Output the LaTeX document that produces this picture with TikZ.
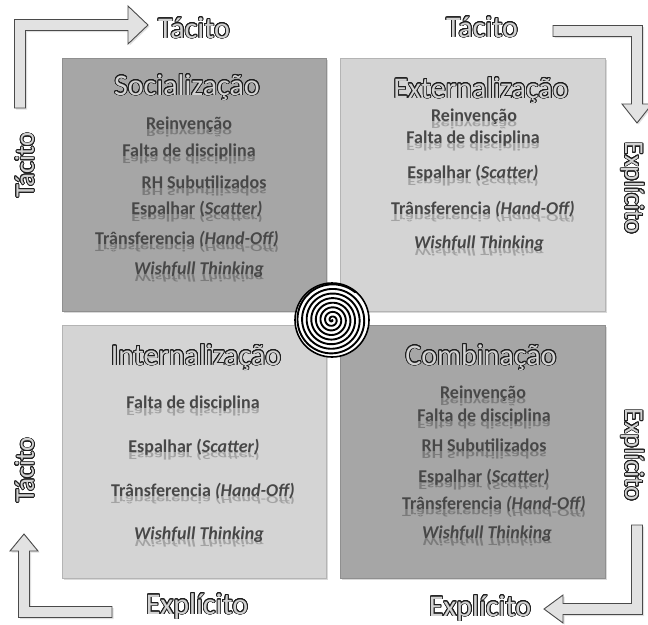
\documentclass[tikz,border=0pt]{standalone}
\usepackage{fontspec}
\setmainfont{Carlito}
\usepackage{graphicx}
\usepackage[copies]{contour}
\usetikzlibrary{shadows}

\contourlength{0.8pt}
\contournumber{24}

\definecolor{darkbox}{HTML}{A6A6A6}
\definecolor{lightbox}{HTML}{D4D4D4}
\definecolor{darkedge}{HTML}{8F8F8F}
\definecolor{lightedge}{HTML}{B4B4B4}
\definecolor{itemgray}{HTML}{474747}
\definecolor{outl}{HTML}{1E1E1E}
\definecolor{outfill}{HTML}{D2D2D2}
\definecolor{arrowfill}{HTML}{E2E2E2}
\definecolor{arrowline}{HTML}{4A4A4A}
\colorlet{refl}{itemgray!45!darkbox}

% hollow (outlined) lettering
\newcommand\outlined[1]{\contour{outl}{\textcolor{outfill}{#1}}}
% text with a faint mirror image under its baseline
\newcommand\mirrored[1]{\leavevmode\rlap{\scalebox{1}[-0.6]{\textcolor{refl}{#1}}}#1}

\tikzset{
  quadbox/.style={line width=0.8pt, drop shadow={shadow xshift=2pt, shadow yshift=-2pt, opacity=0.3}},
  darkquad/.style={quadbox, fill=darkbox, draw=darkedge},
  lightquad/.style={quadbox, fill=lightbox, draw=lightedge},
  item/.style={anchor=base, inner sep=0pt, text=itemgray, font=\fontsize{18}{20}\selectfont\bfseries},
  heading/.style={anchor=base, inner sep=0pt, font=\fontsize{30}{32}\selectfont},
  sidelabel/.style={inner sep=0pt, font=\fontsize{27}{29}\selectfont},
  bentarrow/.style={fill=arrowfill, draw=arrowline, line width=0.9pt, line join=miter,
    drop shadow={shadow xshift=1.5pt, shadow yshift=-1.5pt, opacity=0.25}},
}

\begin{document}
\begin{tikzpicture}[x=1pt, y=-1pt]
\useasboundingbox (0,0) rectangle (648,624);

% ---- four quadrants ----
\path[darkquad]  (62,58)  rectangle (326,311);
\path[lightquad] (340,58) rectangle (605,311);
\path[lightquad] (62,325) rectangle (326,578);
\path[darkquad]  (340,325) rectangle (605,578);

% ---- Socialização ----
\colorlet{refl}{itemgray!45!darkbox}
\node[heading] (soc) at (187,95) {\outlined{Socialização}};
\node[item] (soc1) at (189,129) {\mirrored{Reinvenção}};
\node[item] (soc2) at (189,156) {\mirrored{Falta de disciplina}};
\node[item] (soc3) at (204,188) {\mirrored{RH Subutilizados}};
\node[item] (soc4) at (197,214) {\mirrored{Espalhar (\textit{Scatter)}}};
\node[item] (soc5) at (187,244) {\mirrored{Trânsferencia \textit{(Hand-Off)}}};
\node[item] (soc6) at (199,274) {\mirrored{\textit{Wishfull Thinking}}};

% ---- Externalização ----
\colorlet{refl}{itemgray!35!lightbox}
\node[heading] (ext) at (481,98) {\outlined{Externalização}};
\node[item] (ext1) at (474,121) {\mirrored{Reinvenção}};
\node[item] (ext2) at (473,143) {\mirrored{Falta de disciplina}};
\node[item] (ext3) at (473,178) {\mirrored{Espalhar (\textit{Scatter)}}};
\node[item] (ext4) at (483,214) {\mirrored{Trânsferencia \textit{(Hand-Off)}}};
\node[item] (ext5) at (479,248) {\mirrored{\textit{Wishfull Thinking}}};

% ---- Internalização ----
\node[heading] (int) at (196,365) {\outlined{Internalização}};
\node[item] (int1) at (193,408) {\mirrored{Falta de disciplina}};
\node[item] (int2) at (194,452) {\mirrored{Espalhar (\textit{Scatter)}}};
\node[item] (int3) at (203,496) {\mirrored{Trânsferencia \textit{(Hand-Off)}}};
\node[item] (int4) at (199,539) {\mirrored{\textit{Wishfull Thinking}}};

% ---- Combinação ----
\colorlet{refl}{itemgray!45!darkbox}
\node[heading] (com) at (481,365) {\outlined{Combinação}};
\node[item] (com1) at (483,398) {\mirrored{Reinvenção}};
\node[item] (com2) at (484,421) {\mirrored{Falta de disciplina}};
\node[item] (com3) at (484,451) {\mirrored{RH Subutilizados}};
\node[item] (com4) at (484,482) {\mirrored{Espalhar (\textit{Scatter)}}};
\node[item] (com5) at (494,509) {\mirrored{Trânsferencia \textit{(Hand-Off)}}};
\node[item] (com6) at (487,538) {\mirrored{\textit{Wishfull Thinking}}};

% ---- central spiral ----
\node[circle, fill=white, draw=black, line width=1.6pt, minimum size=74pt, inner sep=0pt] (hub) at (332,320) {};
\draw[line width=1.9pt, line cap=round]
  plot[domain=0:2830, samples=800, smooth] ({332+4.6*\x/360*cos(\x)}, {320+4.6*\x/360*sin(\x)});

% ---- bent arrows in the corners ----
\draw[bentarrow] (14.5,108) -- (14.5,19.5) -- (128,19.5) -- (128,6) -- (148,25)
  -- (128,44) -- (128,30.5) -- (25.5,30.5) -- (25.5,108) -- cycle;
\draw[bentarrow] (553,25.5) -- (642.5,25.5) -- (642.5,104) -- (652,104) -- (637,123)
  -- (622,104) -- (631.5,104) -- (631.5,36.5) -- (553,36.5) -- cycle;
\draw[bentarrow] (642.5,525) -- (642.5,614.5) -- (563,614.5) -- (563,623) -- (544,609)
  -- (563,595) -- (563,603.5) -- (631.5,603.5) -- (631.5,525) -- cycle;
\draw[bentarrow] (112,606.5) -- (29.5,606.5) -- (29.5,551) -- (38,551) -- (24,534)
  -- (10,551) -- (18.5,551) -- (18.5,617.5) -- (112,617.5) -- cycle;

% ---- axis labels ----
\node[heading] (tacA) at (194,38) {\outlined{Tácito}};
\node[heading] (tacB) at (482,37) {\outlined{Tácito}};
\node[heading] (expA) at (197,614) {\outlined{Explícito}};
\node[heading] (expB) at (480,616) {\outlined{Explícito}};
\node[sidelabel, rotate=90]  (tacC) at (25,165) {\outlined{Tácito}};
\node[sidelabel, rotate=90]  (tacD) at (25,470) {\outlined{Tácito}};
\node[sidelabel, rotate=-90] (expC) at (632,188) {\outlined{Explícito}};
\node[sidelabel, rotate=-90] (expD) at (632,455) {\outlined{Explícito}};
\end{tikzpicture}
\end{document}
